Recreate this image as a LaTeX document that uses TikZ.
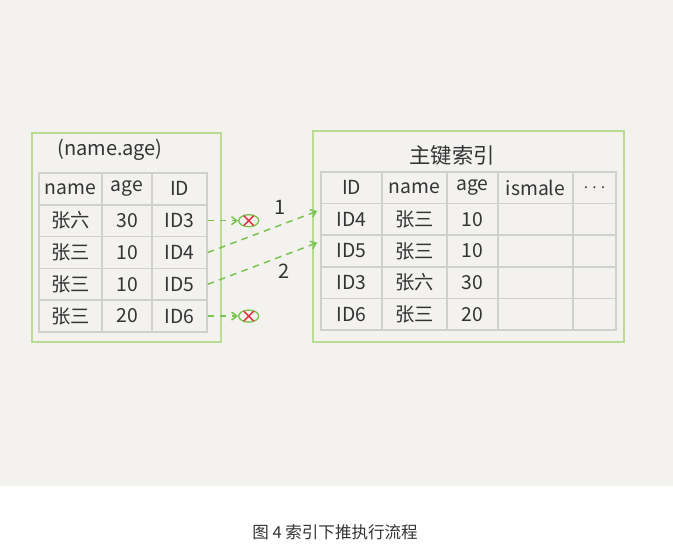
\documentclass[tikz,border=0pt]{standalone}
\usepackage{fontspec}
\setmainfont{Noto Sans CJK SC}
\usetikzlibrary{arrows.meta,calc,positioning,shapes.geometric}
\definecolor{idxBg}{RGB}{243,242,238}
\definecolor{idxFrame}{RGB}{184,220,148}
\definecolor{idxGrid}{RGB}{208,208,206}
\definecolor{idxInk}{RGB}{50,52,54}
\definecolor{idxArrow}{RGB}{120,196,78}
\definecolor{idxCross}{RGB}{232,40,60}
\definecolor{idxCaption}{RGB}{51,51,51}
\tikzset{
  cell/.style={draw=idxGrid, line width=1.1pt, inner sep=0pt, text=idxInk,
    font=\fontsize{14.5}{14.5}\selectfont},
  frame/.style={draw=idxFrame, line width=1.2pt},
  hop/.style={draw=idxArrow, line width=1.1pt, dash pattern=on 5pt off 4pt,
    -{Straight Barb[length=4pt,width=6pt]}},
  dead/.style={ellipse, draw=idxArrow, line width=1pt, minimum width=15pt,
    minimum height=9pt, inner sep=0pt},
  tag/.style={text=idxInk, font=\fontsize{15}{15}\selectfont}
}

\begin{document}
\begin{tikzpicture}[x=0.75pt,y=-0.75pt]
  \useasboundingbox (0,0) rectangle (673,545);
  \fill[idxBg] (0,0) rectangle (673,486);

  \draw[frame] (32,133) rectangle (221,342);
  \node[tag] (ltitle) at (110,150) {(name.age)};
  \foreach \a/\b/\c [count=\i from 0] in {name/age/ID,张六/30/ID3,张三/10/ID4,张三/10/ID5,张三/20/ID6}{
    \node[cell, minimum width=47.25pt, minimum height=23.85pt] (L-\i-1) at (70.5,{188.9+31.8*\i}) {\a};
    \node[cell, minimum width=37.5pt, minimum height=23.85pt] (L-\i-2) at (127,{188.9+31.8*\i}) {\b};
    \node[cell, minimum width=41.25pt, minimum height=23.85pt] (L-\i-3) at (179.5,{188.9+31.8*\i}) {\c};
  }

  \draw[frame] (313,131) rectangle (624,342);
  \node[tag, font=\fontsize{16}{16}\selectfont] (rtitle) at (452,155) {主键索引};
  \foreach \a/\b/\c/\d/\e [count=\i from 0] in {ID/name/age/ismale/$\cdots$,ID4/张三/10/{}/{},ID5/张三/10/{}/{},ID3/张六/30/{}/{},ID6/张三/20/{}/{}}{
    \node[cell, minimum width=45.75pt, minimum height=23.7pt] (R-\i-1) at (351.5,{187.8+31.6*\i}) {\a};
    \node[cell, minimum width=48.75pt, minimum height=23.7pt] (R-\i-2) at (414.5,{187.8+31.6*\i}) {\b};
    \node[cell, minimum width=38.25pt, minimum height=23.7pt] (R-\i-3) at (472.5,{187.8+31.6*\i}) {\c};
    \node[cell, minimum width=56.25pt, minimum height=23.7pt] (R-\i-4) at (535.5,{187.8+31.6*\i}) {\d};
    \node[cell, minimum width=32.25pt, minimum height=23.7pt] (R-\i-5) at (594.5,{187.8+31.6*\i}) {\e};
  }

  \path (L-1-3.east) ++(41,0) node[dead] (x1) {};
  \path (L-4-3.east) ++(41,0) node[dead] (x2) {};
  \foreach \x in {x1,x2}{
    \draw[idxCross, line width=1.1pt] ($(\x)+(-5,-5)$) -- ($(\x)+(5,5)$);
    \draw[idxCross, line width=1.1pt] ($(\x)+(-5,5)$) -- ($(\x)+(5,-5)$);
  }
  \coordinate (t1) at ($(R-1-1.north west)!0.25!(R-1-1.south west)+(-3,0)$);
  \coordinate (t2) at ($(R-2-1.north west)!0.25!(R-2-1.south west)+(-3,0)$);

  \draw[hop] (L-1-3.east) -- (x1.west);
  \draw[hop] (L-4-3.east) -- (x2.west);
  \draw[hop] (L-2-3.east) -- node[tag, pos=0.66, above=4pt] (n1) {1} (t1);
  \draw[hop] (L-3-3.east) -- node[tag, pos=0.7, below=3pt] (n2) {2} (t2);

  \node[text=idxCaption, font=\fontsize{12.4}{12.4}\selectfont] (caption) at (335,532) {图 4 索引下推执行流程};
\end{tikzpicture}
\end{document}
